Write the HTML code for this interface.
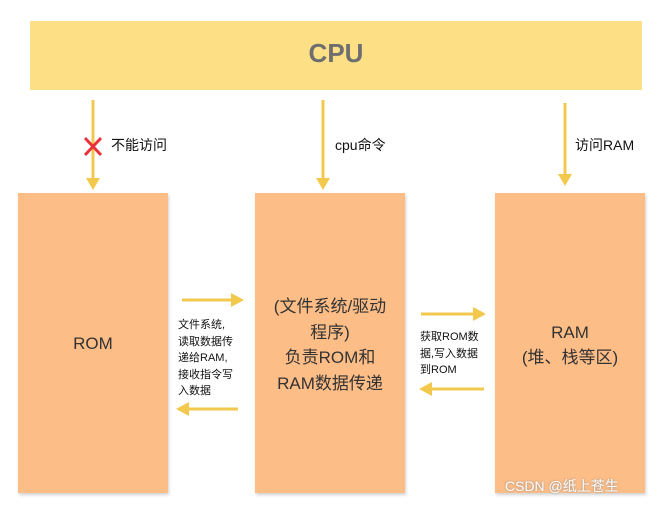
<!DOCTYPE html>
<html><head><meta charset="utf-8"><style>
body{margin:0;width:657px;height:506px;background:#fff;position:relative;overflow:hidden;font-family:"Liberation Sans","Noto Sans CJK SC",sans-serif;}
.b{position:absolute;background:#FDBD87;box-shadow:1px 2px 3px rgba(0,0,0,0.18);}
.t{position:absolute;color:#333;text-align:center;}
.s{position:absolute;font-size:11px;line-height:16.5px;color:#111;}
</style></head><body>
<div class="b" style="left:30px;top:21px;width:612px;height:69px;background:#FDDF86;box-shadow:none"></div>
<div class="t" style="left:30px;top:38px;width:612px;font-size:26px;font-weight:bold;color:#6e6e6e">CPU</div>
<div class="b" style="left:18px;top:193px;width:150px;height:300px"></div>
<div class="b" style="left:255px;top:193px;width:150px;height:300px"></div>
<div class="b" style="left:495px;top:193px;width:150px;height:300px"></div>
<div class="t" style="left:18px;top:334px;width:150px;font-size:17px">ROM</div>
<div class="t" style="left:255px;top:294px;width:150px;font-size:17px;line-height:25.5px">(文件系统/驱动<br>程序)<br>负责ROM和<br>RAM数据传递</div>
<div class="t" style="left:495px;top:320px;width:150px;font-size:17px;line-height:25px">RAM<br>(堆、栈等区)</div>
<div class="s" style="left:178px;top:317px">文件系统,<br>读取数据传<br>递给RAM,<br>接收指令写<br>入数据</div>
<div class="s" style="left:420px;top:329px">获取ROM数<br>据,写入数据<br>到ROM</div>
<div class="s" style="left:111px;top:137px;font-size:14px">不能访问</div>
<div class="s" style="left:335px;top:137px;font-size:14px">cpu命令</div>
<div class="s" style="left:575px;top:137px;font-size:14px">访问RAM</div>
<div class="s" style="left:505px;top:478px;font-size:14px;color:#fff;text-shadow:0 0 2px #888">CSDN @纸上苍生</div>
<svg width="657" height="506" style="position:absolute;left:0;top:0">
<g stroke="#F2C94C" stroke-width="3" fill="#F2C94C">
<line x1="93" y1="100" x2="93" y2="180"/><polygon points="86,178 100,178 93,190" stroke="none"/>
<line x1="323" y1="100" x2="323" y2="180"/><polygon points="316,178 330,178 323,190" stroke="none"/>
<line x1="565" y1="103" x2="565" y2="176"/><polygon points="558,174 572,174 565,186" stroke="none"/>
<line x1="182" y1="300" x2="233" y2="300"/><polygon points="231,293 231,307 244,300" stroke="none"/>
<line x1="238" y1="409" x2="187" y2="409"/><polygon points="189,402 189,416 176,409" stroke="none"/>
<line x1="421" y1="314" x2="475" y2="314"/><polygon points="473,307 473,321 486,314" stroke="none"/>
<line x1="484" y1="389" x2="430" y2="389"/><polygon points="432,382 432,396 419,389" stroke="none"/>
</g>
<g stroke="#E8333A" stroke-width="3"><line x1="85" y1="138" x2="101" y2="155"/><line x1="101" y1="138" x2="85" y2="155"/></g>
</svg>
</body></html>
